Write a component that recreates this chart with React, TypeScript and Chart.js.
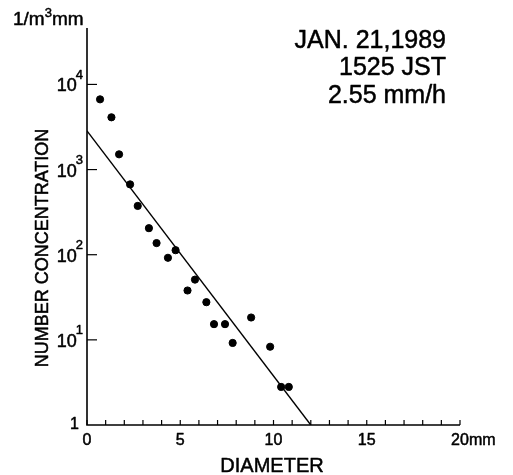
import React, { useEffect, useRef } from "react";
import { Chart, registerables } from "chart.js";

Chart.register(...registerables);

// Data
const diameters = [0.70, 1.31, 1.72, 2.31, 2.72, 3.32, 3.73, 4.34, 4.75, 5.39, 5.79, 6.40, 6.81, 7.40, 7.81, 8.80, 9.82, 10.41, 10.82];
const concentrations = [6680, 4110, 1510, 670, 374, 205, 137, 92, 113, 38, 51, 27.7, 15.3, 15.3, 9.2, 18.3, 8.3, 2.8, 2.8];
const fitX = [0, 12];
const fitY = [2850, 1];

const xTickValues = [0, 1, 2, 3, 4, 5, 6, 7, 8, 9, 10, 11, 12, 13, 14, 15, 16, 17, 18, 19, 20];
const xLabelValues = [0, 5, 10, 15, 20];
const yDecadeValues = [1, 10, 100, 1000, 10000];
const yDecadeExponents = ["", "1", "2", "3", "4"];
const annotationLines = ["JAN. 21,1989", "1525 JST", "2.55 mm/h"];

const FONT = '"Liberation Sans", Arial, sans-serif';

function txt(ctx: CanvasRenderingContext2D, s: string, x: number, y: number) {
  ctx.fillText(s, x, y);
  ctx.strokeText(s, x, y);
}

const overlayPlugin = {
  id: "overlay",
  afterDraw(chart: any) {
    const ctx = chart.ctx as CanvasRenderingContext2D;
    const xs = chart.scales.x;
    const ys = chart.scales.y;
    const area = chart.chartArea;
    ctx.save();
    ctx.strokeStyle = "#000";
    ctx.fillStyle = "#000";
    ctx.lineWidth = 1.6;

    // axes
    ctx.beginPath();
    ctx.moveTo(area.left, area.top);
    ctx.lineTo(area.left, area.bottom);
    ctx.lineTo(area.right, area.bottom);
    ctx.stroke();

    // x ticks (inward)
    ctx.lineWidth = 1.2;
    for (const v of xTickValues) {
      const px = xs.getPixelForValue(v);
      ctx.beginPath();
      ctx.moveTo(px, area.bottom);
      ctx.lineTo(px, area.bottom - 5);
      ctx.stroke();
    }
    // y ticks (inward)
    for (const v of yDecadeValues.slice(1)) {
      const py = ys.getPixelForValue(v);
      ctx.beginPath();
      ctx.moveTo(area.left, py);
      ctx.lineTo(area.left + 10, py);
      ctx.stroke();
    }

    ctx.lineWidth = 0.5;
    ctx.lineJoin = "round";

    // x labels
    ctx.font = `16px ${FONT}`;
    ctx.textBaseline = "top";
    for (const v of xLabelValues) {
      const px = xs.getPixelForValue(v);
      const s = String(v);
      ctx.textAlign = "center";
      txt(ctx, s, px, area.bottom + 8);
      if (v === 20) {
        const w = ctx.measureText(s).width;
        ctx.textAlign = "left";
        txt(ctx, "mm", px + w / 2, area.bottom + 8);
      }
    }

    // y labels
    yDecadeValues.forEach((v, i) => {
      const py = ys.getPixelForValue(v);
      const rightX = area.left - 4;
      ctx.textBaseline = "middle";
      if (i === 0) {
        ctx.font = `16px ${FONT}`;
        ctx.textAlign = "right";
        txt(ctx, "1", area.left - 8, py);
        return;
      }
      ctx.font = `13px ${FONT}`;
      const sup = yDecadeExponents[i];
      const sw = ctx.measureText(sup).width;
      ctx.textAlign = "right";
      txt(ctx, sup, rightX, py - 9);
      ctx.font = `18px ${FONT}`;
      txt(ctx, "10", rightX - sw + 1, py + 2);
    });

    // unit at top-left
    ctx.textBaseline = "alphabetic";
    ctx.textAlign = "left";
    ctx.font = `19px ${FONT}`;
    const part1 = "1/m";
    txt(ctx, part1, 13, 25);
    const w = ctx.measureText(part1).width;
    ctx.font = `13px ${FONT}`;
    txt(ctx, "3", 13 + w, 17);
    const w3 = ctx.measureText("3").width;
    ctx.font = `19px ${FONT}`;
    txt(ctx, "mm", 13 + w + w3, 25);

    // y axis title
    ctx.save();
    ctx.translate(48, 248);
    ctx.rotate(-Math.PI / 2);
    ctx.font = `18px ${FONT}`;
    ctx.textAlign = "center";
    ctx.textBaseline = "alphabetic";
    txt(ctx, "NUMBER CONCENTRATION", 0, 0);
    ctx.restore();

    // x axis title
    ctx.font = `20px ${FONT}`;
    ctx.textAlign = "center";
    ctx.textBaseline = "alphabetic";
    txt(ctx, "DIAMETER", 272, 472);

    // annotation
    ctx.font = `25px ${FONT}`;
    ctx.textAlign = "right";
    const ys0 = [48, 75, 103];
    annotationLines.forEach((t, i) => txt(ctx, t, 446, ys0[i]));

    ctx.restore();
  },
};

export default function App() {
  const ref = useRef<HTMLCanvasElement | null>(null);
  useEffect(() => {
    if (!ref.current) return;
    const chart = new Chart(ref.current, {
      type: "scatter",
      data: {
        datasets: [
          {
            label: "observed",
            data: diameters.map((d, i) => ({ x: d, y: concentrations[i] })),
            backgroundColor: "#000",
            borderColor: "#000",
            pointRadius: 3.6,
            showLine: false,
          },
          {
            label: "fit",
            data: fitX.map((d, i) => ({ x: d, y: fitY[i] })),
            borderColor: "#000",
            borderWidth: 1.4,
            pointRadius: 0,
            showLine: true,
          },
        ],
      },
      options: {
        responsive: false,
        animation: false,
        layout: { padding: { left: 0, top: 28, right: 53, bottom: 0 } },
        plugins: { legend: { display: false }, tooltip: { enabled: false } },
        scales: {
          x: {
            type: "linear",
            min: 0,
            max: 20,
            grid: { display: false },
            border: { display: false },
            ticks: { display: false },
            afterFit: (s: any) => { s.height = 50; },
          },
          y: {
            type: "logarithmic",
            min: 1,
            max: 46000,
            grid: { display: false },
            border: { display: false },
            ticks: { display: false },
            afterFit: (s: any) => { s.width = 87; },
          },
        },
      },
      plugins: [overlayPlugin],
    });
    return () => chart.destroy();
  }, []);
  return (
    <div style={{ position: "absolute", left: 0, top: 0, width: 513, height: 475, background: "#fff" }}>
      <canvas ref={ref} width={513} height={475} style={{ display: "block" }} />
    </div>
  );
}
